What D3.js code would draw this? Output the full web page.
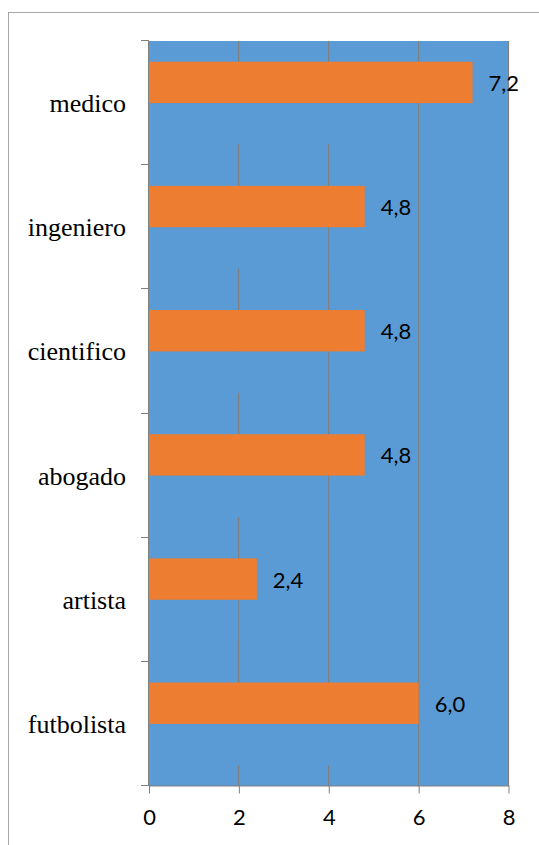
<!DOCTYPE html>
<html>
<head>
<meta charset="utf-8">
<script src="https://cdn.jsdelivr.net/npm/d3@7"></script>
<style>
  html, body { margin: 0; padding: 0; background: #ffffff; }
  svg { display: block; }
</style>
</head>
<body>
<svg id="chart" width="539" height="845"></svg>
<script>
// ---- data ----
const categories = ["medico", "ingeniero", "cientifico", "abogado", "artista", "futbolista"];
const seriesNames = ["Serie 2", "Serie 1"];           // top-to-bottom order inside each group
const serie2Values = [7.2, 4.8, 4.8, 4.8, 2.4, 6.0];    // orange, labelled
const serie1Values = [6, 4, 4, 4, 2, 6];                // blue (same colour as plot area)
const xTicks = [0, 2, 4, 6, 8];

const svg = d3.select("#chart");
const plot = { left: 149, right: 508.5, top: 41, bottom: 786 };

const blue = "#5B9BD5", orange = "#ED7D31", gridCol = "#7F7F7F";

// outer chart border (only top and left visible in frame)
svg.append("rect")
  .attr("x", 8.5).attr("y", 12.5)
  .attr("width", 600).attr("height", 900)
  .attr("fill", "#fff").attr("stroke", "#A6A6A6").attr("stroke-width", 1);

const x = d3.scaleLinear().domain([0, 8]).range([plot.left, plot.right]);
const y0 = d3.scaleBand().domain(categories).range([plot.top, plot.bottom]).padding(0);
const y1 = d3.scaleBand().domain(seriesNames).range([0, y0.bandwidth()]).paddingInner(0).paddingOuter(0.5);

// plot area fill
svg.append("rect")
  .attr("x", x(0)).attr("y", plot.top)
  .attr("width", x(8) - x(0)).attr("height", plot.bottom - plot.top)
  .attr("fill", blue);

// gridlines
svg.append("g").selectAll("line")
  .data(xTicks.filter(d => d > 0))
  .join("line")
  .attr("x1", d => Math.round(x(d)) - 0.5).attr("x2", d => Math.round(x(d)) - 0.5)
  .attr("y1", plot.top).attr("y2", plot.bottom)
  .attr("stroke", gridCol).attr("stroke-width", 1.2);

const rows = categories.map((c, i) => ({ cat: c, s2: serie2Values[i], s1: serie1Values[i] }));

// blue series bars
svg.append("g").selectAll("rect")
  .data(rows)
  .join("rect")
  .attr("x", x(0))
  .attr("y", d => y0(d.cat) + y1("Serie 1"))
  .attr("width", d => x(d.s1) - x(0) - 0.6)
  .attr("height", y1.bandwidth())
  .attr("fill", blue);

// orange series bars
svg.append("g").selectAll("rect")
  .data(rows)
  .join("rect")
  .attr("x", x(0))
  .attr("y", d => y0(d.cat) + y1("Serie 2"))
  .attr("width", d => x(d.s2) - x(0))
  .attr("height", y1.bandwidth())
  .attr("fill", orange);

// data labels
svg.append("g").selectAll("text")
  .data(rows)
  .join("text")
  .attr("x", d => x(d.s2) + 16)
  .attr("y", d => y0(d.cat) + y1("Serie 2") + y1.bandwidth() / 2 + 8.5)
  .attr("font-family", "Lato, 'Open Sans', sans-serif")
  .attr("font-size", 22)
  .attr("fill", "#000")
  .text(d => d3.format(".1f")(d.s2).replace(".", ","));

// x axis
const xAxis = d3.axisBottom(x).tickValues(xTicks).tickSize(8).tickSizeOuter(0)
  .tickFormat(d => String(d));
const gx = svg.append("g").attr("transform", `translate(0,${plot.bottom - 0.5})`).call(xAxis);
gx.select(".domain").attr("stroke", gridCol);
gx.selectAll(".tick line").attr("stroke", gridCol);
gx.selectAll(".tick text")
  .attr("font-family", "Lato, 'Open Sans', sans-serif")
  .attr("font-size", 22)
  .attr("fill", "#000")
  .attr("dy", "1.3em");

// y axis (ticks at category boundaries)
const boundaries = categories.map(c => y0(c)).concat([plot.bottom]);
const gy = svg.append("g");
gy.append("line")
  .attr("x1", x(0) - 0.5).attr("x2", x(0) - 0.5)
  .attr("y1", plot.top).attr("y2", plot.bottom)
  .attr("stroke", gridCol);
gy.selectAll("line.tk")
  .data(boundaries)
  .join("line").attr("class", "tk")
  .attr("x1", x(0) - 8).attr("x2", x(0))
  .attr("y1", d => Math.round(d) - 0.5).attr("y2", d => Math.round(d) - 0.5)
  .attr("stroke", gridCol);
gy.selectAll("text")
  .data(categories)
  .join("text")
  .attr("x", 126)
  .attr("y", d => y0(d) + y0.bandwidth() / 2 + 9)
  .attr("text-anchor", "end")
  .attr("font-family", "'Liberation Serif', 'Times New Roman', serif")
  .attr("font-size", 26)
  .attr("fill", "#000")
  .text(d => d);
</script>
</body>
</html>
